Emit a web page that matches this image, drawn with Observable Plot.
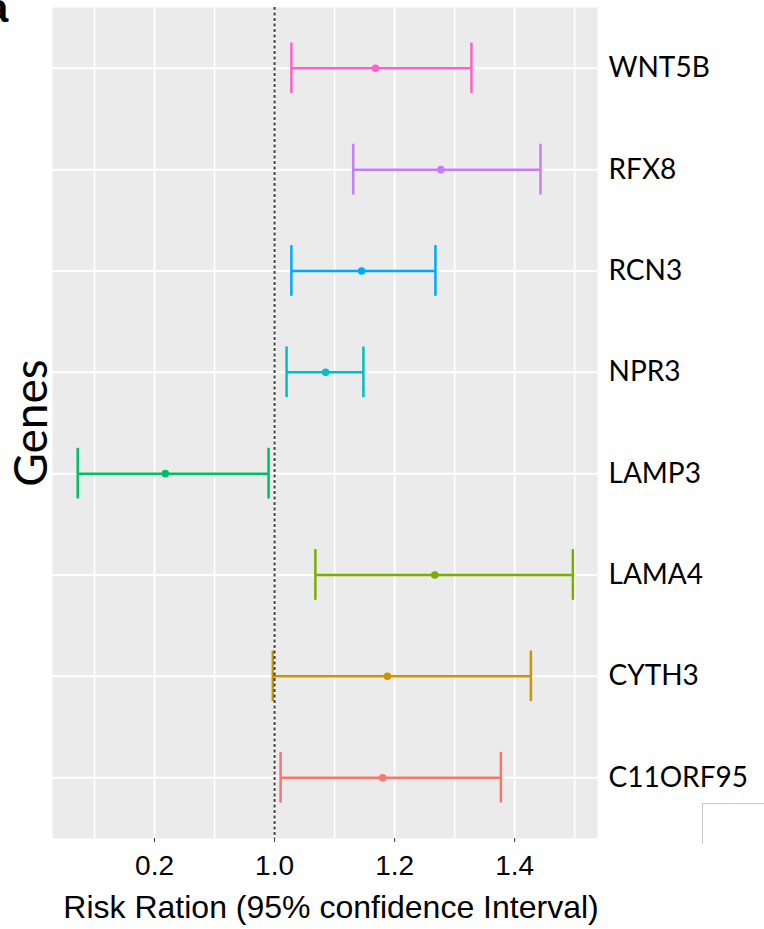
<!DOCTYPE html>
<html><head><meta charset="utf-8">
<script src="https://cdn.jsdelivr.net/npm/d3@7"></script>
<script src="https://cdn.jsdelivr.net/npm/@observablehq/plot@0.6"></script>
<style>
body{margin:0;background:#fff;}
#wrap{position:relative;width:764px;height:929px;overflow:hidden;}
#tag{position:absolute;left:-14px;top:-14px;font:bold 40px "Liberation Sans",Arial,sans-serif;color:#000;}
#box{position:absolute;left:702px;top:803px;width:70px;height:40px;border-left:1px solid #c8c8c8;border-top:1px solid #c8c8c8;}
</style>
</head><body>
<div id="wrap"><div id="chart"></div><div id="tag">a</div><div id="box"></div></div>
<script>
const genes = ["C11ORF95","CYTH3","LAMA4","LAMP3","NPR3","RCN3","RFX8","WNT5B"];
const rr    = [1.180, 1.188, 1.267, 0.818, 1.085, 1.145, 1.277, 1.168];
const lo    = [1.010, 0.997, 1.068, 0.672, 1.020, 1.028, 1.131, 1.028];
const hi    = [1.377, 1.427, 1.497, 0.990, 1.148, 1.268, 1.443, 1.328];
const colors = ["#F8766D","#CD9600","#7CAE00","#00BE67","#00BFC4","#00A9FF","#C77CFF","#FF61CC"];
const xTicks = [0.8, 1.0, 1.2, 1.4];
const xTickLabels = ["0.2", "1.0", "1.2", "1.4"];
const xMinor = [0.7, 0.9, 1.1, 1.3, 1.5];
const xTitle = "Risk Ration (95% confidence Interval)";
const yTitle = "Genes";

const data = genes.map((g, i) => ({gene: g, idx: i, rr: rr[i], lo: lo[i], hi: hi[i]}));
const rows = d3.range(genes.length);

const plot = Plot.plot({
  width: 764, height: 929,
  marginTop: 7, marginBottom: 91, marginLeft: 52, marginRight: 167,
  style: {background: "transparent", fontFamily: "'Liberation Sans', Arial, sans-serif", color: "#000"},
  x: {domain: [0.63, 1.538]},
  y: {domain: [-0.6, 7.6]},
  color: {domain: genes, range: colors},
  marks: [
    Plot.frame({fill: "#EBEBEB", stroke: null}),
    Plot.ruleX(xMinor, {stroke: "white", strokeWidth: 1.6}),
    Plot.ruleX(xTicks, {stroke: "white", strokeWidth: 2}),
    Plot.ruleY(rows, {stroke: "white", strokeWidth: 2}),
    Plot.ruleY(data, {y: "idx", x1: "lo", x2: "hi", stroke: "gene", strokeWidth: 2.5}),
    Plot.ruleX(data, {x: "lo", y1: d => d.idx - 0.25, y2: d => d.idx + 0.25, stroke: "gene", strokeWidth: 2.5}),
    Plot.ruleX(data, {x: "hi", y1: d => d.idx - 0.25, y2: d => d.idx + 0.25, stroke: "gene", strokeWidth: 2.5}),
    Plot.dot(data, {x: "rr", y: "idx", fill: "gene", r: 3.8}),
    Plot.ruleX([1], {stroke: "#444", strokeDasharray: "3,2.5", strokeWidth: 2}),
    Plot.axisX({ticks: xTicks, tickFormat: d => xTickLabels[xTicks.indexOf(d)], tickSize: 4, tickPadding: 13, fontSize: 28, label: null, stroke: "#333"}),
    Plot.axisY({anchor: "right", ticks: rows, tickFormat: i => genes[i], tickSize: 0, tickPadding: 11, fontSize: 28, fontFamily: "Lato", label: null}),
    Plot.text([xTitle], {text: d => d, frameAnchor: "bottom", textAnchor: "middle", lineAnchor: "middle", dy: 69, dx: 6, fontSize: 32}),
    Plot.text([yTitle], {text: d => d, frameAnchor: "left", textAnchor: "middle", lineAnchor: "middle", rotate: -90, dx: -20.5, fontSize: 46, fontFamily: "Lato"})
  ]
});
document.getElementById("chart").appendChild(plot);
</script>
</body></html>
